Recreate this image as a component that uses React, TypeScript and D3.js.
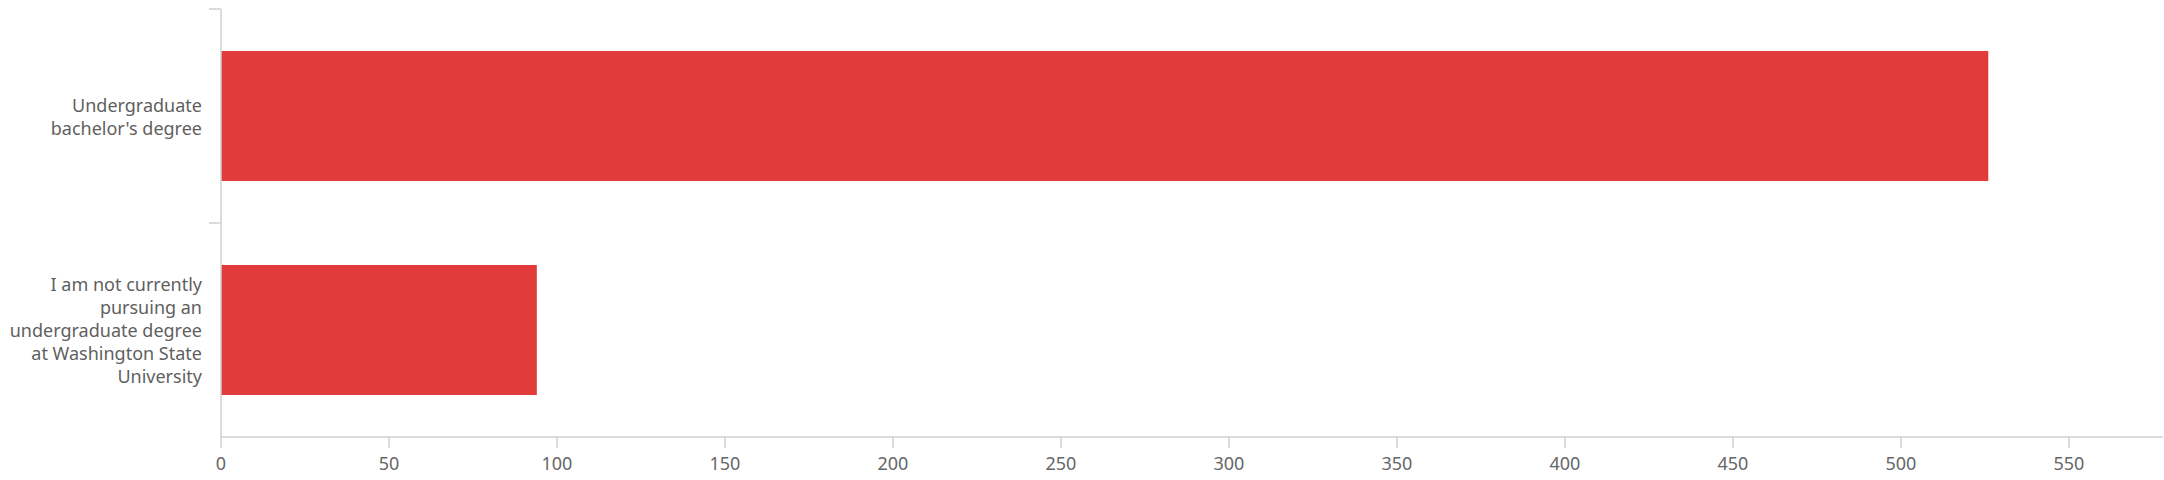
import React from "react";
import * as d3 from "d3";

const categories: string[][] = [
  ["Undergraduate", "bachelor's degree"],
  ["I am not currently", "pursuing an", "undergraduate degree", "at Washington State", "University"],
];
const values: number[] = [526, 94];
const xTicks: number[] = [0, 50, 100, 150, 200, 250, 300, 350, 400, 450, 500, 550];

const W = 2164;
const H = 480;
const left = 221;
const right = 2163;
const top = 9;
const bottom = 437;

export default function App() {
  const x = d3.scaleLinear().domain([0, 578]).range([left, right]);
  const keys = categories.map((_, i) => String(i));
  const y = d3
    .scaleBand<string>()
    .domain(keys)
    .range([top, bottom])
    .paddingInner(0.3925)
    .paddingOuter(0.19625);
  const step = y.step();
  const font = "'Noto Sans', sans-serif";
  const axisColor = "#d0d0d0";
  const lineH = 23;

  return (
    <div style={{ position: "absolute", left: 0, top: 0 }}>
      <svg width={W} height={H} style={{ display: "block", background: "#fff" }}>
        {/* bars */}
        {values.map((v, i) => (
          <rect
            key={i}
            x={x(0)}
            y={y(keys[i])}
            width={x(v) - x(0)}
            height={y.bandwidth()}
            fill="#e23b3c"
          />
        ))}
        {/* y axis line */}
        <line x1={left} x2={left} y1={top} y2={bottom} stroke={axisColor} strokeWidth={1.5} />
        {/* y axis ticks at band boundaries */}
        {keys.map((k, i) => {
          const yy = (y(k) as number) - y.paddingOuter() * step;
          return (
            <line key={i} x1={left - 12} x2={left} y1={yy} y2={yy} stroke={axisColor} strokeWidth={1.5} />
          );
        })}
        {/* x axis line */}
        <line x1={left} x2={right} y1={bottom} y2={bottom} stroke={axisColor} strokeWidth={1.5} />
        {xTicks.map((t) => (
          <g key={t}>
            <line x1={x(t)} x2={x(t)} y1={bottom} y2={bottom + 11} stroke={axisColor} strokeWidth={1.5} />
            <text
              x={x(t)}
              y={bottom + 26}
              textAnchor="middle"
              dominantBaseline="central"
              fontFamily={font}
              fontSize={18}
              fill="#666"
            >
              {t}
            </text>
          </g>
        ))}
        {/* category labels */}
        {categories.map((lines, i) => {
          const cy = (y(keys[i]) as number) + y.bandwidth() / 2;
          const start = cy - ((lines.length - 1) * lineH) / 2;
          return (
            <text
              key={i}
              x={202}
              textAnchor="end"
              fontFamily={font}
              fontSize={18}
              fill="#5f5f5f"
            >
              {lines.map((ln, j) => (
                <tspan key={j} x={202} y={start + j * lineH} dominantBaseline="central">
                  {ln}
                </tspan>
              ))}
            </text>
          );
        })}
      </svg>
    </div>
  );
}
